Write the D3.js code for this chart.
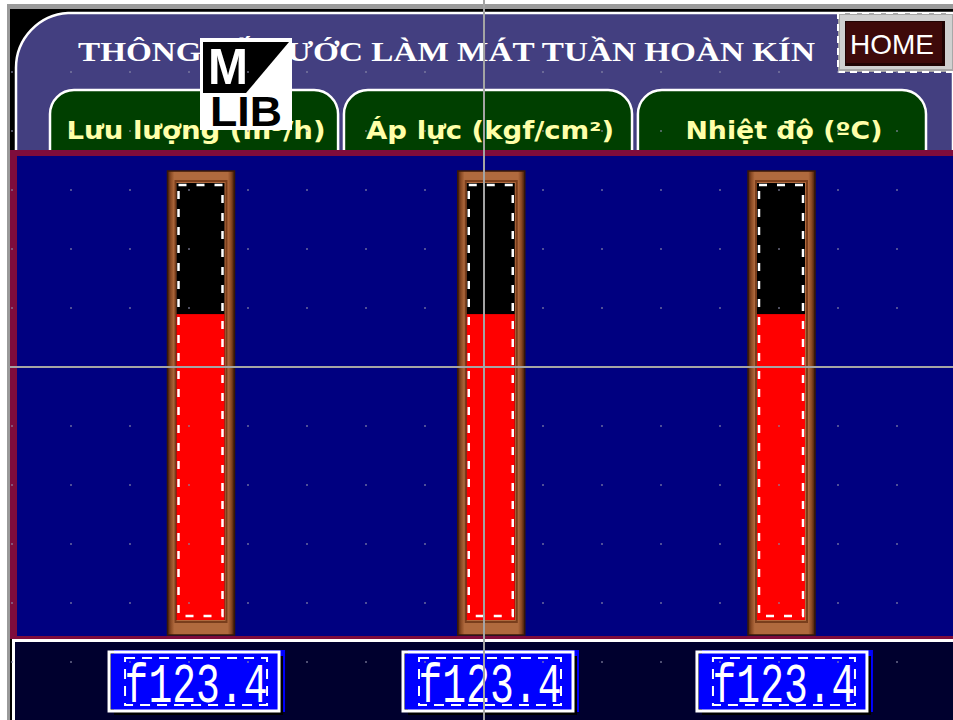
<!DOCTYPE html>
<html>
<head>
<meta charset="utf-8">
<script src="https://cdn.jsdelivr.net/npm/d3@7"></script>
<style>
  body { margin: 0; background: #fff; }
  svg { display: block; }
</style>
</head>
<body>
<div id="wrapper"></div>
<script>
// data
const categories = ['Lưu lượng (m³/h)', 'Áp lực (kgf/cm²)', 'Nhiệt độ (ºC)']
const levels = [70, 70, 70]          // bar fill, percent of scale
const readouts = ['f123.4', 'f123.4', 'f123.4']
const scaleMax = 100
const title = 'THÔNG SỐ NƯỚC LÀM MÁT TUẦN HOÀN KÍN'

const W = 953
const H = 720

const svg = d3.select('#wrapper')
    .append('svg')
        .attr('width', W)
        .attr('height', H)

const defs = svg.append('defs')
const wood = defs.append('linearGradient')
    .attr('id', 'wood')
    .attr('x1', 0).attr('x2', 1).attr('y1', 0).attr('y2', 0)
wood.append('stop').attr('offset', '0%').attr('stop-color', '#4e220c')
wood.append('stop').attr('offset', '5%').attr('stop-color', '#8a4a24')
wood.append('stop').attr('offset', '10%').attr('stop-color', '#b06a3e')
wood.append('stop').attr('offset', '90%').attr('stop-color', '#b06a3e')
wood.append('stop').attr('offset', '95%').attr('stop-color', '#8a4a24')
wood.append('stop').attr('offset', '100%').attr('stop-color', '#3e1a08')

// scales
const xBand = d3.scaleBand()
    .domain(categories)
    .range([50, 926])
    .paddingInner(0.02)

const xBar = d3.scalePoint()
    .domain(categories)
    .range([200.5, 781])

const y = d3.scaleLinear()
    .domain([0, scaleMax])
    .range([620, 183])

// outer frame
svg.append('rect').attr('x', 0).attr('y', 0).attr('width', W).attr('height', H).attr('fill', '#fff')
svg.append('rect').attr('x', 7).attr('y', 4).attr('width', W - 7).attr('height', H - 4).attr('fill', '#9a9a9a')
svg.append('rect').attr('x', 10).attr('y', 9).attr('width', W - 10).attr('height', H - 9).attr('fill', '#000')

// header
svg.append('path')
    .attr('d', 'M16,152 L16,68 A55,55 0 0 1 68,13 L953,13 L953,152 Z')
    .attr('fill', '#433f80')
    .attr('stroke', '#fff')
    .attr('stroke-width', 2.5)

svg.append('text')
    .attr('x', 78)
    .attr('y', 61)
    .attr('textLength', 737)
    .attr('lengthAdjust', 'spacingAndGlyphs')
    .attr('font-family', 'Liberation Serif, serif')
    .attr('font-weight', 'bold')
    .attr('font-size', 27)
    .attr('fill', '#fff')
    .text(title)

// HOME button
const home = svg.append('g')
home.append('rect')
    .attr('x', 838).attr('y', 13).attr('width', 118).attr('height', 59)
    .attr('fill', '#a8a8a8')
home.append('rect')
    .attr('x', 840).attr('y', 15).attr('width', 112).attr('height', 54)
    .attr('fill', '#d0d0d0')
home.append('rect')
    .attr('x', 838).attr('y', 13).attr('width', 118).attr('height', 59)
    .attr('fill', 'none')
    .attr('stroke', '#fff')
    .attr('stroke-width', 2)
    .attr('stroke-dasharray', '7,5')
home.append('rect')
    .attr('x', 845).attr('y', 21).attr('width', 100).attr('height', 45)
    .attr('fill', '#200404')
home.append('rect')
    .attr('x', 846).attr('y', 22).attr('width', 96).attr('height', 41)
    .attr('fill', '#3e0a0a')
home.append('text')
    .attr('x', 892)
    .attr('y', 54)
    .attr('text-anchor', 'middle')
    .attr('font-family', 'Liberation Sans, Arial, sans-serif')
    .attr('font-size', 28)
    .attr('fill', '#fff')
    .text('HOME')

// tabs
const tabPath = function (x0, x1) {
    const top = 90, bot = 154, r = 24
    return `M${x0},${bot} L${x0},${top + r} A${r},${r} 0 0 1 ${x0 + r},${top} L${x1 - r},${top} A${r},${r} 0 0 1 ${x1},${top + r} L${x1},${bot}`
}

const tabs = svg.append('g')
    .selectAll('g')
    .data(categories)
    .join('g')

tabs.append('path')
    .attr('d', d => tabPath(xBand(d), xBand(d) + xBand.bandwidth()))
    .attr('fill', '#003f00')
    .attr('stroke', '#fff')
    .attr('stroke-width', 2.5)

const tabTextWidth = [259, 248, 197]
tabs.append('text')
    .attr('x', d => xBand(d) + xBand.bandwidth() / 2 + 2)
    .attr('y', 139)
    .attr('text-anchor', 'middle')
    .attr('textLength', (d, i) => tabTextWidth[i])
    .attr('lengthAdjust', 'spacingAndGlyphs')
    .attr('font-family', 'DejaVu Sans, sans-serif')
    .attr('font-weight', 'bold')
    .attr('font-size', 24)
    .attr('fill', '#ffffa8')
    .text(d => d)

// main panel
svg.append('rect')
    .attr('x', 10).attr('y', 150).attr('width', W - 10).attr('height', 489)
    .attr('fill', '#7e0c3c')
svg.append('rect')
    .attr('x', 17).attr('y', 156).attr('width', W - 17).attr('height', 480)
    .attr('fill', '#000080')

// bottom panel
svg.append('rect')
    .attr('x', 12).attr('y', 639).attr('width', W - 12).attr('height', H - 639)
    .attr('fill', '#fff')
svg.append('rect')
    .attr('x', 15).attr('y', 642).attr('width', W - 15).attr('height', H - 642)
    .attr('fill', '#00002e')

// bars
const bars = svg.append('g')
    .selectAll('g')
    .data(levels)
    .join('g')
    .attr('transform', (d, i) => `translate(${xBar(categories[i])},0)`)

bars.append('rect')
    .attr('x', -33).attr('y', 171).attr('width', 67).attr('height', 464)
    .attr('fill', 'url(#wood)')
    .attr('stroke', '#3a1806')
    .attr('stroke-width', 1.5)

bars.append('rect')
    .attr('x', -25).attr('y', y(scaleMax) - 2).attr('width', 51).attr('height', y(0) - y(scaleMax) + 4)
    .attr('fill', 'none')
    .attr('stroke', '#7a3e1c')
    .attr('stroke-width', 2)

bars.append('rect')
    .attr('x', -24).attr('y', y(scaleMax)).attr('width', 48).attr('height', y(0) - y(scaleMax))
    .attr('fill', '#000')

bars.append('rect')
    .attr('x', -24).attr('y', d => y(d)).attr('width', 48).attr('height', d => y(0) - y(d))
    .attr('fill', '#ff0000')

bars.append('rect')
    .attr('x', -22).attr('y', y(scaleMax) + 2).attr('width', 44).attr('height', y(0) - y(scaleMax) - 6)
    .attr('fill', 'none')
    .attr('stroke', '#fff')
    .attr('stroke-width', 2.5)
    .attr('stroke-dasharray', '8,10')

// readout boxes
const boxes = svg.append('g')
    .selectAll('g')
    .data(readouts)
    .join('g')
    .attr('transform', (d, i) => `translate(${xBand(categories[i]) + xBand.bandwidth() / 2},0)`)

boxes.append('rect')
    .attr('x', -80).attr('y', 650).attr('width', 171).attr('height', 62)
    .attr('fill', '#0000ff')
boxes.append('rect')
    .attr('x', 84).attr('y', 656).attr('width', 5).attr('height', 59)
    .attr('fill', '#000')
boxes.append('rect')
    .attr('x', -80).attr('y', 711).attr('width', 169).attr('height', 4)
    .attr('fill', '#000')
boxes.append('rect')
    .attr('x', -85).attr('y', 652).attr('width', 170).attr('height', 59)
    .attr('fill', 'none')
    .attr('stroke', '#fff')
    .attr('stroke-width', 3)
boxes.append('rect')
    .attr('x', -83).attr('y', 654).attr('width', 166).attr('height', 55)
    .attr('fill', '#0000ff')
boxes.append('rect')
    .attr('x', -69).attr('y', 658).attr('width', 142).attr('height', 47)
    .attr('fill', 'none')
    .attr('stroke', '#fff')
    .attr('stroke-width', 2)
    .attr('stroke-dasharray', '10,7')
boxes.append('text')
    .attr('x', 2)
    .attr('y', 0)
    .attr('transform', 'translate(0,702) scale(1,1.42)')
    .attr('text-anchor', 'middle')
    .attr('textLength', 143)
    .attr('lengthAdjust', 'spacingAndGlyphs')
    .attr('font-family', 'Liberation Mono, monospace')
    .attr('font-size', 39)
    .attr('fill', '#fff')
    .text(d => d)

// MLIB watermark
const mark = svg.append('g').attr('transform', 'translate(200,38)')
mark.append('rect')
    .attr('width', 92).attr('height', 92)
    .attr('fill', '#fff')
mark.append('polygon')
    .attr('points', '3,4 89,4 46,55 3,55')
    .attr('fill', '#000')
mark.append('text')
    .attr('x', 8).attr('y', 46)
    .attr('textLength', 40)
    .attr('lengthAdjust', 'spacingAndGlyphs')
    .attr('font-family', 'Liberation Sans, sans-serif')
    .attr('font-weight', 'bold')
    .attr('font-size', 50)
    .attr('fill', '#fff')
    .text('M')
mark.append('text')
    .attr('x', 10).attr('y', 88)
    .attr('textLength', 72)
    .attr('lengthAdjust', 'spacingAndGlyphs')
    .attr('font-family', 'Liberation Sans, sans-serif')
    .attr('font-weight', 'bold')
    .attr('font-size', 43)
    .attr('fill', '#000')
    .text('LIB')

// grid dots
const dotXs = d3.range(12, W, 59)
const dotYs = d3.range(72, H, 59)
svg.append('g')
    .selectAll('rect')
    .data(d3.cross(dotXs, dotYs))
    .join('rect')
    .attr('x', d => d[0] - 0.75)
    .attr('y', d => d[1] - 0.75)
    .attr('width', 1.5)
    .attr('height', 1.5)
    .attr('fill', '#8a8aa8')

// crosshair
svg.append('line')
    .attr('x1', 484).attr('x2', 484).attr('y1', 0).attr('y2', H)
    .attr('stroke', '#a4a4a4')
    .attr('stroke-width', 2)
svg.append('line')
    .attr('x1', 10).attr('x2', W).attr('y1', 367).attr('y2', 367)
    .attr('stroke', '#a4a4a4')
    .attr('stroke-width', 2)
</script>
</body>
</html>
